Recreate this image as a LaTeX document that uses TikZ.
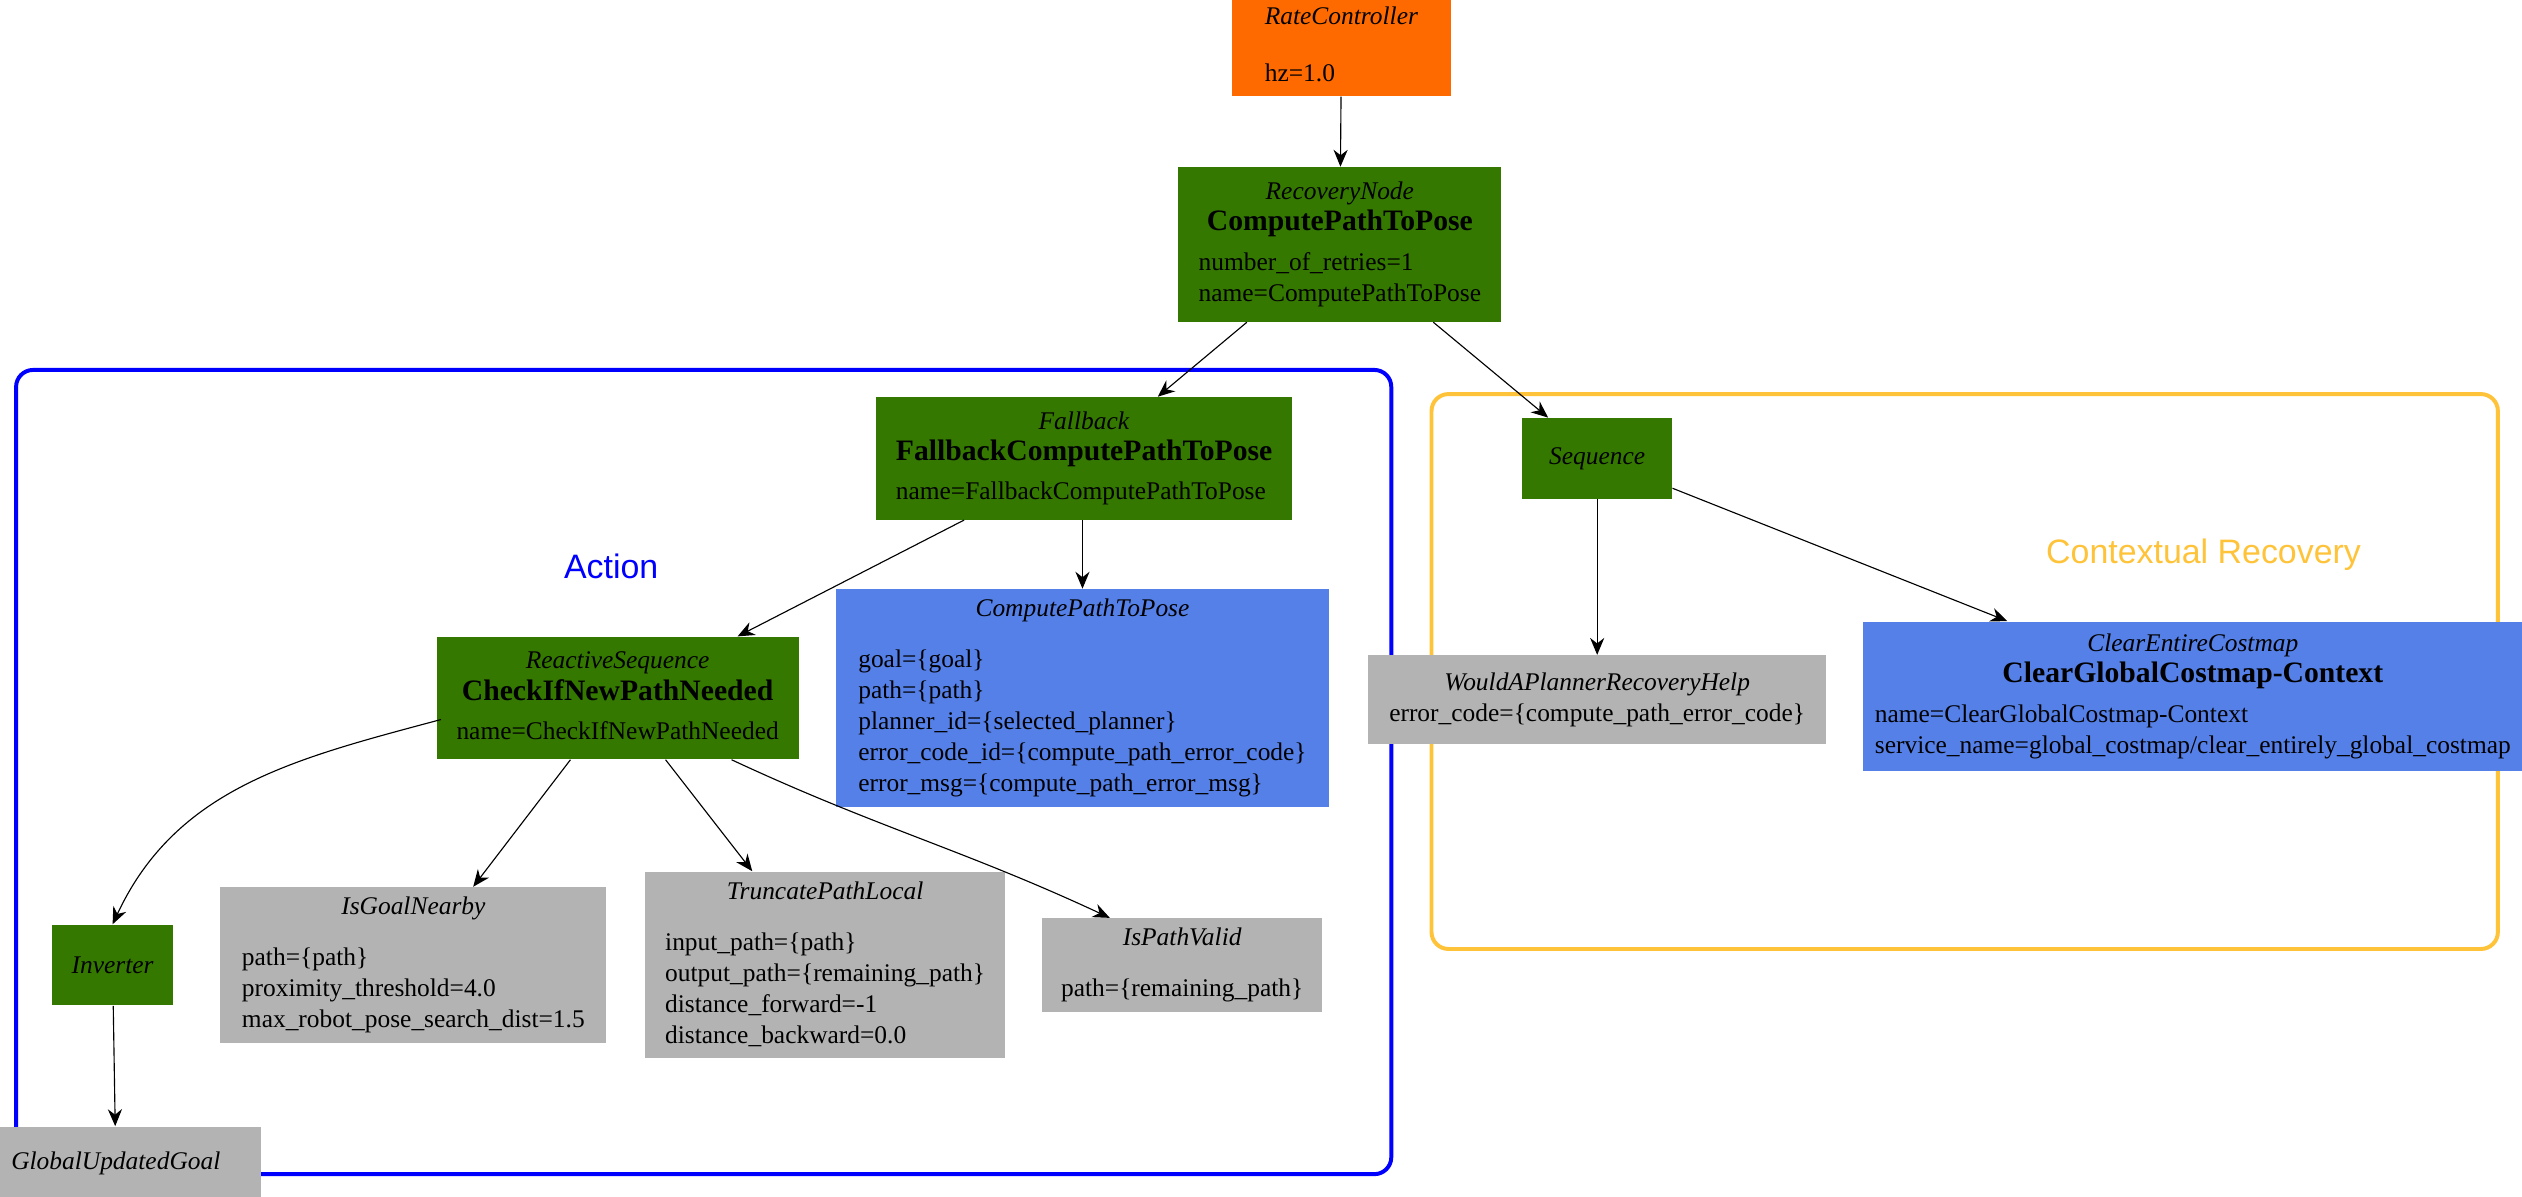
\documentclass[tikz,border=0pt]{standalone}
\usepackage{fontspec}
\setmainfont{Liberation Serif}
\newfontfamily\labelfont{Liberation Sans}
\usetikzlibrary{arrows.meta,calc}
\definecolor{rateorange}{HTML}{FF6A00}
\definecolor{ctrlgreen}{HTML}{347800}
\definecolor{actblue}{HTML}{5580E8}
\definecolor{condgray}{HTML}{B3B3B3}
\definecolor{ctxorange}{HTML}{FFC33A}
\tikzset{%
  btnode/.style  = {rectangle, inner sep=2pt, align=left,%
                    font=\fontsize{9}{11}\selectfont},%
  control/.style = {btnode, fill=ctrlgreen},%
  action/.style  = {btnode, fill=actblue},%
  cond/.style    = {btnode, fill=condgray},%
  group/.style   = {draw, line width=1.4pt, rounded corners=6pt},%
  grouplabel/.style = {font=\labelfont\fontsize{12}{14}\selectfont}%
}
% type, name (may be empty), parameters
\newcommand{\btlabel}[3]{\begin{tabular}{@{}l@{}}%
  \multicolumn{1}{@{}c@{}}{\textit{#1}}\\%
  \ifx&#2&\else\multicolumn{1}{@{}c@{}}{\fontsize{10.5}{12}\selectfont\textbf{#2}}\\[3pt]\fi
  #3\end{tabular}}
\begin{document}
\begin{tikzpicture}[x=0.02cm,y=-0.02cm,>={Stealth[length=6pt,width=5pt]}]
	\useasboundingbox (0,0) rectangle (1568,744);
	\clip (0,0) rectangle (1568,744);
	% groups
	\draw[group, blue] (10,230) rectangle (865,730);
	\draw[group, ctxorange] (890,245) rectangle (1553,590);
	\node[grouplabel, text=blue] (lblaction) at (380,352) {Action};
	\node[grouplabel, text=ctxorange] (lblctx) at (1370,345) {Contextual Recovery};
	% tree nodes
	\node[btnode, fill=rateorange, minimum width=2.72cm, minimum height=1.16cm] (rate) at (834,29)
		{\btlabel{RateController}{}{\\[-2pt]hz=1.0}};
	\node[control, minimum width=4.02cm, minimum height=1.92cm] (recovery) at (833,152)
		{\btlabel{RecoveryNode}{ComputePathToPose}{number\_of\_retries=1\\name=ComputePathToPose}};
	\node[control, minimum width=5.18cm, minimum height=1.52cm] (fallback) at (674,285)
		{\btlabel{Fallback}{FallbackComputePathToPose}{name=FallbackComputePathToPose}};
	\node[control, minimum width=1.86cm, minimum height=1cm] (sequence) at (993,285)
		{\textit{Sequence}};
	\node[control, minimum width=4.5cm, minimum height=1.52cm] (reactive) at (384,434)
		{\btlabel{ReactiveSequence}{CheckIfNewPathNeeded}{name=CheckIfNewPathNeeded}};
	\node[action, minimum width=6.12cm, minimum height=2.54cm] (compute) at (673,434)
		{\btlabel{ComputePathToPose}{}{\\[-4pt]goal=\{goal\}\\path=\{path\}\\planner\_id=\{selected\_planner\}\\error\_code\_id=\{compute\_path\_error\_code\}\\error\_msg=\{compute\_path\_error\_msg\}}};
	\node[cond, minimum width=5.7cm, minimum height=1.1cm] (wouldhelp) at (993,435)
		{\btlabel{WouldAPlannerRecoveryHelp}{}{error\_code=\{compute\_path\_error\_code\}}};
	\node[action, minimum width=8.2cm, minimum height=1.86cm, anchor=west] (clear) at (1158,433)
		{\btlabel{ClearEntireCostmap}{ClearGlobalCostmap-Context}{name=ClearGlobalCostmap-Context\\service\_name=global\_costmap/clear\_entirely\_global\_costmap}};
	\node[control, minimum width=1.5cm, minimum height=1cm] (inverter) at (70,600)
		{\textit{Inverter}};
	\node[cond, minimum width=4.8cm, minimum height=1.82cm] (goalnear) at (257,600)
		{\btlabel{IsGoalNearby}{}{\\[-4pt]path=\{path\}\\proximity\_threshold=4.0\\max\_robot\_pose\_search\_dist=1.5}};
	\node[cond, minimum width=4.48cm, minimum height=2.2cm] (truncate) at (513,600)
		{\btlabel{TruncatePathLocal}{}{\\[-4pt]input\_path=\{path\}\\output\_path=\{remaining\_path\}\\distance\_forward=-1\\distance\_backward=0.0}};
	\node[cond, minimum width=3.48cm, minimum height=1.08cm] (pathvalid) at (735,600)
		{\btlabel{IsPathValid}{}{\\[-4pt]path=\{remaining\_path\}}};
	\node[cond, minimum width=3.6cm, minimum height=0.9cm] (updated) at (72,723)
		{\textit{GlobalUpdatedGoal}};
	% connectors
	\draw[->] (rate) -- (recovery);
	\draw[->] (recovery) -- (fallback);
	\draw[->] (recovery) -- (sequence);
	\draw[->] (fallback) -- (reactive);
	\draw[->] (fallback.south -| compute.north) -- (compute.north);
	\draw[->] (sequence) -- (wouldhelp);
	\draw[->] (sequence) -- (clear.north -| 1248,0);
	\draw[->] ($(reactive.south west)+(3,-25)$) to[out=195,in=65] (inverter.north);
	\draw[->] (reactive) -- (goalnear);
	\draw[->] (reactive) -- (truncate);
	\draw[->] ($(reactive.south east)+(-42,0)$) to[out=-25,in=155] ($(pathvalid.north)+(-45,0)$);
	\draw[->] (inverter) -- (updated);
\end{tikzpicture}
\end{document}
